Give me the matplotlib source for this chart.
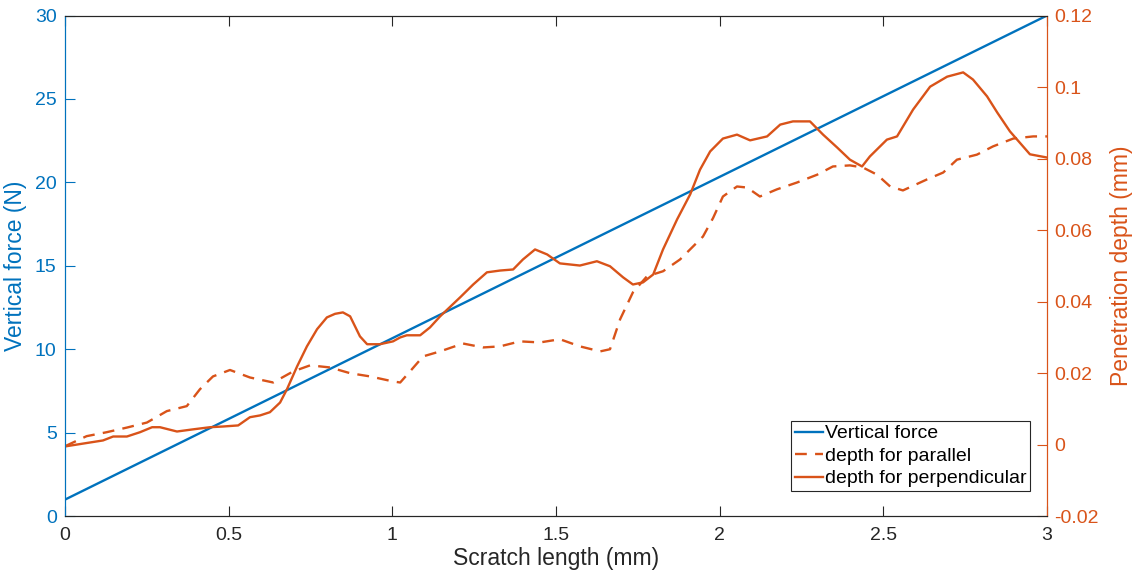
import numpy as np
import matplotlib
matplotlib.use('Agg')
import matplotlib.pyplot as plt

plt.rcParams['font.family'] = ['Liberation Sans', 'DejaVu Sans']

# 划痕长度 (mm) 与垂直力 (N)
force_x = [0, 3]
force_y = [1, 30]

# 垂直方向划痕深度 (mm)
perp_x = [0, 0.005, 0.116, 0.147, 0.189, 0.229, 0.266, 0.290, 0.342, 0.391, 0.443, 0.483,
          0.529, 0.565, 0.596, 0.626, 0.657, 0.678, 0.709, 0.739, 0.770, 0.800, 0.825, 0.849,
          0.871, 0.901, 0.923, 0.962, 1.002, 1.024, 1.044, 1.085, 1.115, 1.146, 1.207,
          1.247, 1.289, 1.329, 1.369, 1.399, 1.436, 1.473, 1.512, 1.573, 1.625, 1.665,
          1.705, 1.735, 1.766, 1.797, 1.827, 1.870, 1.910, 1.940, 1.971, 2.010, 2.053,
          2.093, 2.145, 2.185, 2.224, 2.276, 2.316, 2.359, 2.398, 2.435, 2.459, 2.511,
          2.542, 2.591, 2.643, 2.695, 2.744, 2.774, 2.817, 2.848, 2.887, 2.948, 3.0]
perp_y = [-0.0005, -0.0004, 0.0012, 0.0023, 0.0023, 0.0035, 0.0049, 0.0049, 0.0037, 0.0043,
          0.0049, 0.0051, 0.0054, 0.0077, 0.0082, 0.0091, 0.0118, 0.0155, 0.0219, 0.0275,
          0.0323, 0.0356, 0.0366, 0.0370, 0.0359, 0.0303, 0.0281, 0.0281, 0.0289, 0.0300, 0.0306,
          0.0306, 0.0328, 0.0359, 0.0412, 0.0448, 0.0482, 0.0487, 0.0490, 0.0518, 0.0546,
          0.0532, 0.0507, 0.0501, 0.0513, 0.0499, 0.0468, 0.0448, 0.0454, 0.0476, 0.0546,
          0.0630, 0.0700, 0.0769, 0.0820, 0.0856, 0.0867, 0.0851, 0.0862, 0.0895, 0.0904,
          0.0904, 0.0867, 0.0831, 0.0797, 0.0778, 0.0806, 0.0853, 0.0862, 0.0937, 0.1001,
          0.1029, 0.1041, 0.1021, 0.0974, 0.0929, 0.0876, 0.0812, 0.0803]

# 平行方向划痕深度 (mm)
para_x = [0, 0.005, 0.066, 0.127, 0.189, 0.250, 0.311, 0.372, 0.412, 0.452, 0.504, 0.565,
          0.636, 0.697, 0.749, 0.810, 0.871, 0.932, 1.002, 1.024, 1.054, 1.094, 1.146,
          1.216, 1.277, 1.329, 1.390, 1.451, 1.512, 1.573, 1.635, 1.665, 1.696, 1.735,
          1.778, 1.827, 1.879, 1.949, 1.980, 2.010, 2.053, 2.084, 2.123, 2.175, 2.236,
          2.298, 2.346, 2.398, 2.438, 2.481, 2.521, 2.560, 2.634, 2.683, 2.725, 2.786,
          2.835, 2.897, 2.958, 3.0]
para_y = [-0.0003, -0.0002, 0.0024, 0.0035, 0.0048, 0.0062, 0.0094, 0.0108, 0.0155, 0.0191,
          0.0209, 0.0188, 0.0174, 0.0205, 0.0222, 0.0216, 0.0200, 0.0191, 0.0177, 0.0174,
          0.0205, 0.0247, 0.0261, 0.0283, 0.0272, 0.0275, 0.0289, 0.0286, 0.0295, 0.0275,
          0.0261, 0.0267, 0.0351, 0.0426, 0.0471, 0.0485, 0.0518, 0.0582, 0.0634, 0.0694,
          0.0722, 0.0719, 0.0694, 0.0714, 0.0733, 0.0755, 0.0778, 0.0781, 0.0775, 0.0755,
          0.0722, 0.0711, 0.0742, 0.0761, 0.0797, 0.0811, 0.0834, 0.0856, 0.0862, 0.0862]

x_ticks = [0, 0.5, 1, 1.5, 2, 2.5, 3]
x_labels = ['0', '0.5', '1', '1.5', '2', '2.5', '3']
left_ticks = [0, 5, 10, 15, 20, 25, 30]
right_ticks = [-0.02, 0, 0.02, 0.04, 0.06, 0.08, 0.1, 0.12]
right_labels = ['-0.02', '0', '0.02', '0.04', '0.06', '0.08', '0.1', '0.12']

blue = '#0072BD'
orange = '#D95319'
dark = '#262626'

fig = plt.figure(figsize=(11.37, 5.81), dpi=100)
ax = fig.add_axes([0.0572, 0.1114, 0.8636, 0.8619])
ax2 = ax.twinx()

l1, = ax.plot(force_x, force_y, color=blue, lw=1.7, label='Vertical force')
l2, = ax2.plot(para_x, para_y, color=orange, lw=1.7, ls='--', dashes=(5, 3.5),
               dash_joinstyle='round', dash_capstyle='butt', label='depth for parallel')
l3, = ax2.plot(perp_x, perp_y, color=orange, lw=1.7, solid_joinstyle='round',
               label='depth for perpendicular')

ax.set_xlim(0, 3)
ax.set_ylim(0, 30)
ax2.set_ylim(-0.02, 0.12)
ax.set_xticks(x_ticks)
ax.set_xticklabels(x_labels)
ax.set_yticks(left_ticks)
ax2.set_yticks(right_ticks)
ax2.set_yticklabels(right_labels)

for a in (ax, ax2):
    a.spines['top'].set_color(dark)
    a.spines['bottom'].set_color(dark)
    a.spines['left'].set_color(blue)
    a.spines['right'].set_color(orange)
    for s in a.spines.values():
        s.set_linewidth(0.8)

ax.tick_params(axis='x', direction='in', length=7, width=0.8, colors=dark,
               labelsize=14, top=True, pad=8)
ax.tick_params(axis='y', direction='in', length=7, width=0.8, colors=blue,
               labelsize=14, pad=6)
ax2.tick_params(axis='y', direction='in', length=7, width=0.8, colors=orange,
                labelsize=14, pad=5)

ax.set_xlabel('Scratch length (mm)', fontsize=16.5, color=dark, labelpad=2)
ax.set_ylabel('Vertical force (N)', fontsize=16.5, color=blue, labelpad=6)
ax2.set_ylabel('Penetration depth (mm)', fontsize=16.5, color=orange, labelpad=8)

leg = ax2.legend(handles=[l1, l2, l3], loc='lower right', bbox_to_anchor=(0.983, 0.05),
                 fontsize=14, frameon=True, fancybox=False, handlelength=1.45,
                 handletextpad=0.1, borderpad=0.2, labelspacing=0.25, borderaxespad=0)
leg.get_frame().set_edgecolor(dark)
leg.get_frame().set_linewidth(0.8)
leg.get_frame().set_alpha(1)

fig.savefig('out.png', dpi=100)
